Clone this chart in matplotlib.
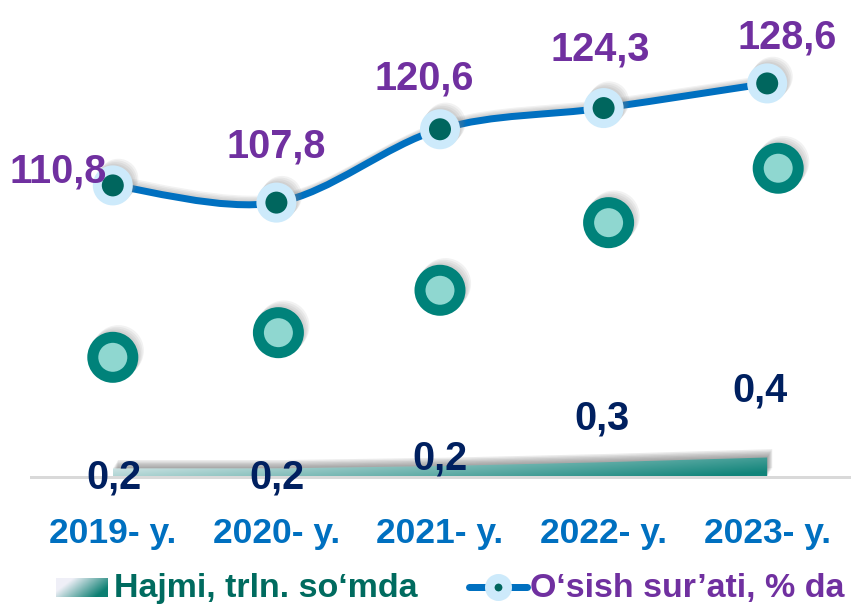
import numpy as np
import matplotlib
matplotlib.use('Agg')
import matplotlib.pyplot as plt
from matplotlib.path import Path
from matplotlib.patches import PathPatch
import matplotlib.patheffects as pe

# ---------------- data ----------------
years = ['2019- y.', '2020- y.', '2021- y.', '2022- y.', '2023- y.']
growth = [110.8, 107.8, 120.6, 124.3, 128.6]          # O'sish sur'ati, % da
volume = [0.17, 0.17, 0.22, 0.30, 0.40]                # Hajmi, trln. so'mda
circle_vals = [80.8, 85.1, 92.5, 104.3, 113.8]         # decorative teal circles (read on % axis)
legend_labels = ['Hajmi, trln. so‘mda', 'O‘sish sur’ati, % da']

# ---------------- style ----------------
plt.rcParams['font.family'] = ['Liberation Sans', 'DejaVu Sans']
W, H = 851, 605
PX = 0.72  # points per pixel at dpi 100

BLUE = '#0070C0'
PURPLE = '#7030A0'
NAVY = '#002060'
TEAL_DARK = '#00665E'
LIGHT_BLUE = '#CDEAFB'
TEAL_RING = '#00827A'
TEAL_FILL = '#8FD7D0'

fig = plt.figure(figsize=(W / 100, H / 100), dpi=100)
fig.patch.set_facecolor('white')

base_y = 476.5
ax = fig.add_axes([31 / W, (H - base_y) / H, 818 / W, 471 / H])
ax.set_xlim(-0.5, 4.5)
ax.set_ylim(60, 142.2)
ax2 = ax.twinx()
ax2.set_ylim(0, 9.9)
ax.set_zorder(2)
ax2.set_zorder(1)
ax.patch.set_visible(False)

for a in (ax, ax2):
    for s in ('top', 'left', 'right'):
        a.spines[s].set_visible(False)
    a.set_yticks([])
ax2.spines['bottom'].set_visible(False)
ax.spines['bottom'].set_color('#D9D9D9')
ax.spines['bottom'].set_linewidth(3 * PX)
ax.set_xticks([])

x = np.arange(len(years))

# ---------------- area (volume) with gradient ----------------
verts = [(x[0], 0)] + list(zip(x, volume)) + [(x[-1], 0), (x[0], 0)]
area_path = Path(verts)
shadows = [pe.SimplePatchShadow(offset=(0.6 * k, 1.0 * k), shadow_rgbFace='#6A6A6A', alpha=0.13)
           for k in range(1, 7)]
area_patch = PathPatch(area_path, facecolor='none', edgecolor='none',
                       path_effects=shadows + [pe.Normal()], zorder=1)
ax2.add_patch(area_patch)

ny, nx = 60, 300
yy, xx = np.mgrid[0:ny, 0:nx]
xf = xx / (nx - 1)
yf = yy / (ny - 1)          # 0 bottom, 1 top (origin lower)
w = np.clip(0.78 * xf + 0.30 * (1 - yf) - 0.02, 0, 1)[..., None]
c0 = np.array([0.94, 0.96, 0.97])
c1 = np.array([0.07, 0.52, 0.48])
img = c0 * (1 - w) + c1 * w
clip_patch = PathPatch(area_path, facecolor='none', edgecolor='none', transform=ax2.transData)
ax2.add_patch(clip_patch)
im = ax2.imshow(img, extent=(x[0], x[-1], 0, max(volume)), origin='lower',
                aspect='auto', zorder=2, interpolation='bilinear')
im.set_clip_path(clip_patch)
ax2.set_xlim(-0.5, 4.5)
ax2.set_ylim(0, 9.9)

# navy labels for volume (drawn on the top axes so they sit above the baseline)
navy_off = [(1, -20), (1, -20), (0, -3.5), (-1.5, 33), (-7, 56)]
for i, v in enumerate(volume):
    ax.annotate(f'{v:.1f}'.replace('.', ','), xy=(x[i], v), xycoords=ax2.transData,
                xytext=(navy_off[i][0] * PX, navy_off[i][1] * PX), textcoords='offset points',
                ha='center', va='baseline', fontsize=28.5, fontweight='bold', color=NAVY,
                zorder=10, annotation_clip=False)

# ---------------- teal circles ----------------
circle_dx = [0, 2, 0, 5, 11]   # pixel nudges
cx = [x[i] + circle_dx[i] / 163.6 for i in range(len(x))]
circ_shadow = [pe.SimpleLineShadow(offset=(1.0 * k, 1.2 * k), shadow_color='#808080', alpha=0.10)
               for k in range(1, 5)]
ax.plot(cx, circle_vals, linestyle='none', marker='o', ms=40 * PX, mew=11 * PX,
        mec=TEAL_RING, mfc=TEAL_FILL, zorder=3, path_effects=circ_shadow + [pe.Normal()])

# ---------------- growth line (smoothed) ----------------
def smooth_path(xs, ys, t=1 / 6):
    pts = np.column_stack([xs, ys]).astype(float)
    n = len(pts)
    vs = [pts[0]]
    cs = [Path.MOVETO]
    for i in range(n - 1):
        p0 = pts[i - 1] if i > 0 else pts[i]
        p1 = pts[i]
        p2 = pts[i + 1]
        p3 = pts[i + 2] if i + 2 < n else pts[i + 1]
        vs += [p1 + (p2 - p0) * t, p2 - (p3 - p1) * t, p2]
        cs += [Path.CURVE4] * 3
    return Path(vs, cs)

line_shadow = [pe.SimpleLineShadow(offset=(0.8 * k, 1.0 * k), shadow_color='#808080', alpha=0.10)
               for k in range(1, 5)]
line_patch = PathPatch(smooth_path(x, growth), facecolor='none', edgecolor=BLUE,
                       lw=7 * PX, capstyle='round', zorder=4,
                       path_effects=line_shadow + [pe.Normal()])
ax.add_patch(line_patch)
ax.plot(x, growth, linestyle='none', marker='o', ms=31 * PX, mew=9 * PX,
        mfc=TEAL_DARK, mec=LIGHT_BLUE, zorder=5,
        path_effects=circ_shadow + [pe.Normal()])

purple_off = [(-55, 3), (0, 45), (-16, 40), (-3.5, 48), (20, 35)]
for i, v in enumerate(growth):
    ax.annotate(f'{v:.1f}'.replace('.', ','), xy=(x[i], v),
                xytext=(purple_off[i][0] * PX, purple_off[i][1] * PX), textcoords='offset points',
                ha='center', va='baseline', fontsize=28.5, fontweight='bold', color=PURPLE, zorder=6)

# x category labels
for i, lab in enumerate(years):
    ax.annotate(lab, xy=(x[i], 0), xycoords=('data', 'axes fraction'),
                xytext=(0, -(543 - base_y) * PX), textcoords='offset points',
                ha='center', va='baseline', fontsize=25.5, fontweight='bold', color=BLUE)

# ---------------- legend ----------------
lg = fig.add_axes([0, 0, 1, 1])
lg.set_xlim(0, W)
lg.set_ylim(H, 0)
lg.axis('off')
lg.patch.set_visible(False)

gy, gx = np.mgrid[0:20, 0:60]
gxf = gx / 59
gyf = gy / 19  # 0 top, 1 bottom (origin upper)
gw = np.clip(1.1 * gxf + 0.5 * gyf - 0.35, 0, 1)[..., None]
gc0 = np.array([0.94, 0.94, 0.97])
gc1 = np.array([0.05, 0.50, 0.45])
lg.imshow(gc0 * (1 - gw) + gc1 * gw, extent=(56, 108, 597, 578), aspect='auto',
          interpolation='bilinear')
lg.set_xlim(0, W)
lg.set_ylim(H, 0)
lg.text(114, 597, legend_labels[0], ha='left', va='baseline', fontsize=24.5,
        fontweight='bold', color='#006B5F')

lg.plot([469, 498, 527], [587, 587, 587], color=BLUE, lw=7 * PX, solid_capstyle='round',
        marker='o', markevery=[1], ms=17.5 * PX, mew=9.5 * PX, mfc=TEAL_DARK, mec=LIGHT_BLUE)
lg.text(530, 597, legend_labels[1], ha='left', va='baseline', fontsize=24.5,
        fontweight='bold', color=PURPLE)

fig.savefig('out.png', dpi=100, facecolor='white')
